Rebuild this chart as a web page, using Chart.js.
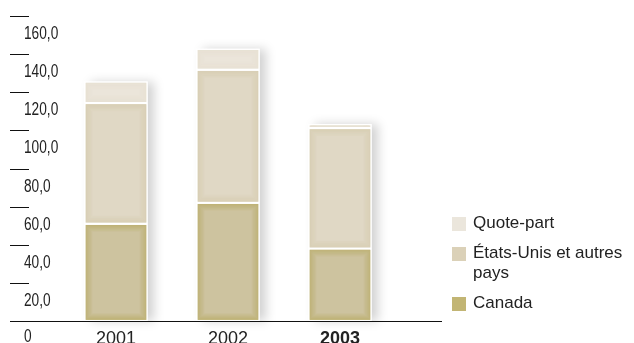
<!DOCTYPE html>
<html>
<head>
<meta charset="utf-8">
<script src="https://cdn.jsdelivr.net/npm/chart.js@4"></script>
<style>
  html, body { margin: 0; padding: 0; background: #fff; }
  #wrap { position: relative; width: 634px; height: 343px; overflow: hidden; }
  #legende { position: absolute; left: 452px; top: 213px; font-family: "Liberation Sans", Arial, sans-serif; font-size: 17px; color: #222; }
  .item { position: relative; padding-left: 21px; line-height: 20px; margin-bottom: 10px; width: 180px; }
  .item span { position: absolute; left: 0; top: 4px; width: 14px; height: 14px; }
</style>
</head>
<body>
<div id="wrap">
  <canvas id="graphique" width="634" height="343"></canvas>
  <div id="legende"></div>
</div>
<script>
const annees = ["2001", "2002", "2003"];
const canada = [51.0, 62.0, 38.0];
const etatsUnis = [63.3, 69.8, 63.2];
const quotePart = [11.3, 11.0, 2.0];
const ticksY = [20, 40, 60, 80, 100, 120, 140, 160];

const series = [
  { label: "Canada", data: canada, fond: "#cdc39f", bord: "#b4a658", legende: "#c2b574" },
  { label: "États-Unis et autres pays", data: etatsUnis, fond: "#e0d8c5", bord: "#d2c8a8", legende: "#dbd1b8" },
  { label: "Quote-part", data: quotePart, fond: "#ebe5da", bord: "#e6dfd1", legende: "#ebe6dc" }
];

// ombre portée derrière chaque colonne + ombrage intérieur des segments
const effetsBarres = {
  id: "effetsBarres",
  beforeDatasetsDraw(chart) {
    const ctx = chart.ctx;
    const metas = chart.getSortedVisibleDatasetMetas();
    ctx.save();
    ctx.shadowColor = "rgba(0,0,0,0.18)";
    ctx.shadowBlur = 10;
    ctx.shadowOffsetX = 6;
    ctx.shadowOffsetY = 0;
    ctx.fillStyle = "#fff";
    metas[0].data.forEach((bar, i) => {
      const top = metas[metas.length - 1].data[i].y;
      ctx.fillRect(bar.x - bar.width / 2, top, bar.width, bar.base - top);
    });
    ctx.restore();
  },
  afterDatasetsDraw(chart) {
    const ctx = chart.ctx;
    chart.getSortedVisibleDatasetMetas().forEach((meta, d) => {
      const s = series[d];
      meta.data.forEach(bar => {
        const x = bar.x - bar.width / 2 + 1, y = bar.y + 1;
        const w = bar.width - 2, h = bar.base - bar.y - 2;
        if (h <= 0) return;
        ctx.save();
        ctx.beginPath();
        ctx.rect(x, y, w, h);
        ctx.clip();
        for (let k = 0; k < 7; k++) {
          ctx.strokeStyle = s.bord;
          ctx.globalAlpha = 0.6 * (1 - k / 7);
          ctx.lineWidth = 1;
          ctx.strokeRect(x + k + 0.5, y + k + 0.5, w - 2 * k - 1, h - 2 * k - 1);
        }
        ctx.restore();
      });
    });
  },
  afterDraw(chart) {
    const ctx = chart.ctx;
    const y = chart.scales.y;
    ctx.save();
    ctx.strokeStyle = "#111";
    ctx.lineWidth = 1;
    const base = Math.round(y.getPixelForValue(0)) + 0.5;
    ctx.beginPath();
    ctx.moveTo(10, base);
    ctx.lineTo(442, base);
    ctx.stroke();
    ticksY.forEach(v => {
      const py = Math.round(y.getPixelForValue(v)) + 0.5;
      ctx.beginPath();
      ctx.moveTo(10, py);
      ctx.lineTo(29, py);
      ctx.stroke();
    });
    // libellés étroits (police condensée simulée)
    ctx.fillStyle = "#222";
    ctx.font = '18px "Liberation Sans", Arial, sans-serif';
    ctx.textBaseline = "middle";
    const ecrire = (txt, x, py) => {
      ctx.save();
      ctx.translate(x, py);
      ctx.scale(0.76, 1);
      ctx.fillText(txt, 0, 0);
      ctx.restore();
    };
    ticksY.forEach(v => {
      const py = Math.round(y.getPixelForValue(v));
      ecrire(v.toFixed(1).replace(".", ","), 24, py + 18);
    });
    ecrire("0", 24, base + 16);
    ctx.restore();
  }
};

new Chart(document.getElementById("graphique"), {
  type: "bar",
  data: {
    labels: annees,
    datasets: series.map(s => ({
      label: s.label,
      data: s.data,
      backgroundColor: s.fond,
      borderColor: "#ffffff",
      borderWidth: 1.5,
      borderSkipped: false,
      barThickness: 63
    }))
  },
  options: {
    responsive: false,
    animation: false,
    layout: { padding: { left: 60, right: 238, top: 16, bottom: 0 } },
    plugins: { legend: { display: false }, tooltip: { enabled: false } },
    scales: {
      x: {
        stacked: true,
        grid: { display: false },
        border: { display: false },
        ticks: {
          color: "#222",
          padding: -1,
          font: c => ({ family: '"Liberation Sans", Arial, sans-serif', size: 18, weight: c.index === 2 ? "bold" : "normal" })
        },
        afterFit: scale => { scale.height = 22; }
      },
      y: {
        stacked: true,
        display: false,
        min: 0,
        max: 160
      }
    }
  },
  plugins: [effetsBarres]
});

const legende = document.getElementById("legende");
series.slice().reverse().forEach(s => {
  const div = document.createElement("div");
  div.className = "item";
  div.innerHTML = '<span style="background:' + s.legende + '"></span>' +
    s.label.replace("autres pays", "autres<br>pays");
  legende.appendChild(div);
});
</script>
</body>
</html>
